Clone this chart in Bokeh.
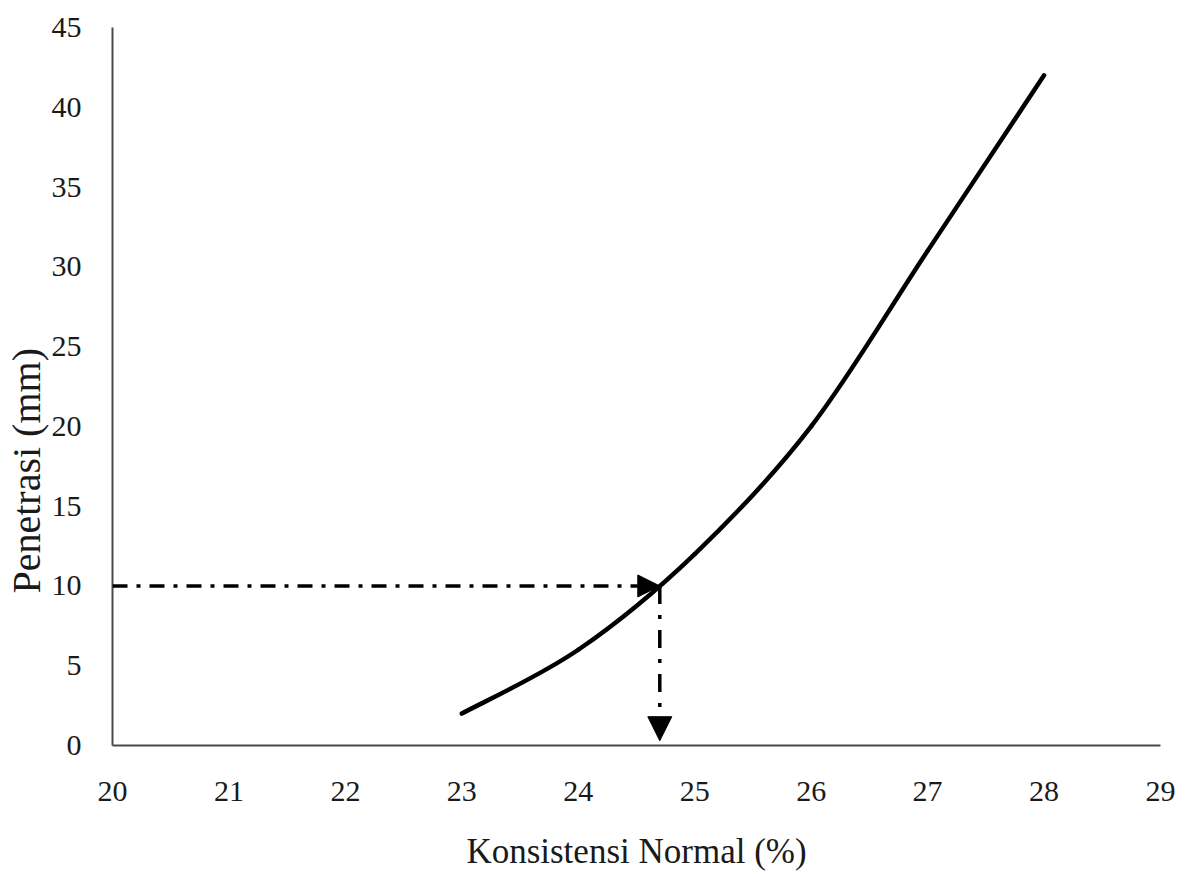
from bokeh.plotting import figure
from bokeh.models import Range1d, FixedTicker, Arrow, NormalHead, Title
from bokeh.embed import file_html
from bokeh.resources import INLINE

# Data
konsistensi = [23, 24, 25, 26, 27, 28]
penetrasi = [2, 6, 12, 20, 31, 42]
x_ticks = [20, 21, 22, 23, 24, 25, 26, 27, 28, 29]
y_ticks = [0, 5, 10, 15, 20, 25, 30, 35, 40, 45]
target_penetrasi = 10
target_konsistensi = 24.7
arrow_floor = 0.3

FONT = "Liberation Serif"

p = figure(width=1186, height=874, output_backend="svg", toolbar_location=None,
           x_range=Range1d(20, 29), y_range=Range1d(0, 45),
           min_border_left=112, min_border_right=26, min_border_top=27, min_border_bottom=129)
p.outline_line_color = None
p.xgrid.visible = False
p.ygrid.visible = False
p.background_fill_color = "white"
p.border_fill_color = "white"

for ax in (p.xaxis, p.yaxis):
    ax.axis_line_color = "#4a4a4a"
    ax.axis_line_width = 2
    ax.major_tick_line_color = None
    ax.minor_tick_line_color = None
    ax.major_label_text_font = FONT
    ax.major_label_text_font_size = "30px"
    ax.major_label_text_color = "#1a1a1a"
    ax.axis_label_text_font = FONT
    ax.axis_label_text_font_style = "normal"
    ax.axis_label_text_color = "#1a1a1a"

p.xaxis.ticker = FixedTicker(ticks=x_ticks)
p.yaxis.ticker = FixedTicker(ticks=y_ticks)
p.xaxis.major_label_standoff = 30
p.yaxis.major_label_standoff = 25
p.xaxis.axis_label = "Konsistensi Normal (%)"
p.xaxis.axis_label_text_font_size = "35px"
p.xaxis.axis_label_standoff = 28

# Y-axis title, placed lower than the plot's centre as in the original
p.add_layout(Title(text="Penetrasi (mm)", align="left", offset=152, standoff=0,
                   text_font=FONT, text_font_size="40px", text_font_style="normal",
                   text_color="#1a1a1a"), "left")

# Smoothed line (Bezier through the data points, like a spreadsheet "smoothed line")
n = len(konsistensi)
x0s, y0s, x1s, y1s, cx0, cy0, cx1, cy1 = [], [], [], [], [], [], [], []
for i in range(n - 1):
    im1 = max(i - 1, 0)
    ip2 = min(i + 2, n - 1)
    x0s.append(konsistensi[i]); y0s.append(penetrasi[i])
    x1s.append(konsistensi[i + 1]); y1s.append(penetrasi[i + 1])
    cx0.append(konsistensi[i] + (konsistensi[i + 1] - konsistensi[im1]) / 6)
    cy0.append(penetrasi[i] + (penetrasi[i + 1] - penetrasi[im1]) / 6)
    cx1.append(konsistensi[i + 1] - (konsistensi[ip2] - konsistensi[i]) / 6)
    cy1.append(penetrasi[i + 1] - (penetrasi[ip2] - penetrasi[i]) / 6)

p.bezier(x0=x0s, y0=y0s, x1=x1s, y1=y1s, cx0=cx0, cy0=cy0, cx1=cx1, cy1=cy1,
         line_color="black", line_width=4.5, line_cap="round", line_join="round")

p.add_layout(Arrow(end=NormalHead(size=22, fill_color="black", line_color="black"),
                   x_start=20, y_start=target_penetrasi,
                   x_end=target_konsistensi, y_end=target_penetrasi,
                   line_color="black", line_width=3.5, line_dash="15 9 4 9"))
p.add_layout(Arrow(end=NormalHead(size=24, fill_color="black", line_color="black"),
                   x_start=target_konsistensi, y_start=target_penetrasi,
                   x_end=target_konsistensi, y_end=arrow_floor,
                   line_color="black", line_width=3.5, line_dash="18 11 4 11"))

open("out.html", "w").write(file_html(p, INLINE))
